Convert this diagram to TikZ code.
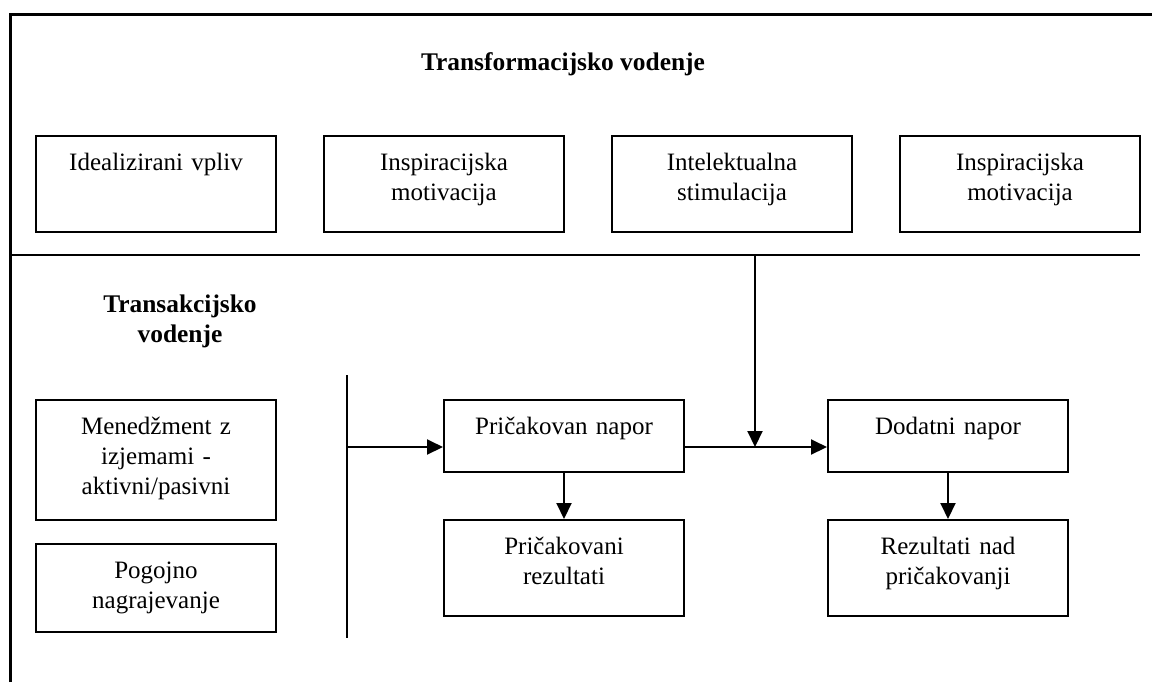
\documentclass[tikz,border=0pt]{standalone}
\usepackage{fontspec}
\setmainfont{Liberation Serif}
\usetikzlibrary{arrows.meta}
\begin{document}
\begin{tikzpicture}[x=0.5pt,y=-0.5pt,
  txt/.style={font=\fontsize{12.5}{15}\selectfont},
  heading/.style={font=\fontsize{12.7}{15}\selectfont\bfseries, inner sep=0pt},
  box/.style={txt, draw, line width=1pt, inner sep=0pt, anchor=north west,
    text width=120pt, align=center, text height=17pt},
  rule/.style={line width=1pt},
  frame/.style={line width=1.5pt},
  arr/.style={-{Triangle[length=8pt,width=7.5pt]}, line width=1pt}]
\useasboundingbox (0,0) rectangle (1152,682);

% outer frame (open to the right and bottom)
\coordinate (fBL) at (10,682);
\coordinate (fTL) at (10,14);
\coordinate (fTR) at (1152,14);
\draw[frame] (fBL) -- (fTL) -- (fTR);

% headings
\node[heading, anchor=base] (title) at (563,70) {Transformacijsko vodenje};
\node[heading, anchor=base, text width=90pt, align=center] (trans) at (180,312) {Transakcijsko\\vodenje};

% transformational factors
\node[box, text depth=31pt] (ideal) at (35,135) {Idealizirani vpliv};
\node[box, text depth=31pt] (inspA) at (323,135) {Inspiracijska\\motivacija};
\node[box, text depth=31pt] (intel) at (611,135) {Intelektualna\\stimulacija};
\node[box, text depth=31pt] (inspB) at (899,135) {Inspiracijska\\motivacija};

% transactional factors
\node[box, text depth=43pt] (mgmt) at (35,399) {Menedžment z\\izjemami -\\aktivni/pasivni};
\node[box, text depth=27pt] (reward) at (35,543) {Pogojno\\nagrajevanje};

% effort and outcomes
\node[box, text depth=19pt] (expeff) at (443,399) {Pričakovan napor};
\node[box, text depth=31pt] (expres) at (443,519) {Pričakovani\\rezultati};
\node[box, text depth=19pt] (extraeff) at (827,399) {Dodatni napor};
\node[box, text depth=31pt] (extrares) at (827,519) {Rezultati nad\\pričakovanji};

% separator line and vertical bar
\coordinate (sepL) at (10,255);
\coordinate (sepR) at (1140,255);
\coordinate (drop) at (755,255);
\coordinate (barT) at (347,375);
\coordinate (barB) at (347,638);
\coordinate (barM) at (347,447);
\coordinate (joint) at (755,447);
\draw[rule] (sepL) -- (sepR);
\draw[rule] (barT) -- (barB);

% connectors
\draw[arr] (barM) -- (barM -| expeff.west);
\draw[arr] (barM -| expeff.east) -- (barM -| extraeff.west);
\draw[arr] (drop) -- (joint);
\draw[arr] (expeff.south) -- (expres.north);
\draw[arr] (extraeff.south) -- (extrares.north);
\end{tikzpicture}
\end{document}
